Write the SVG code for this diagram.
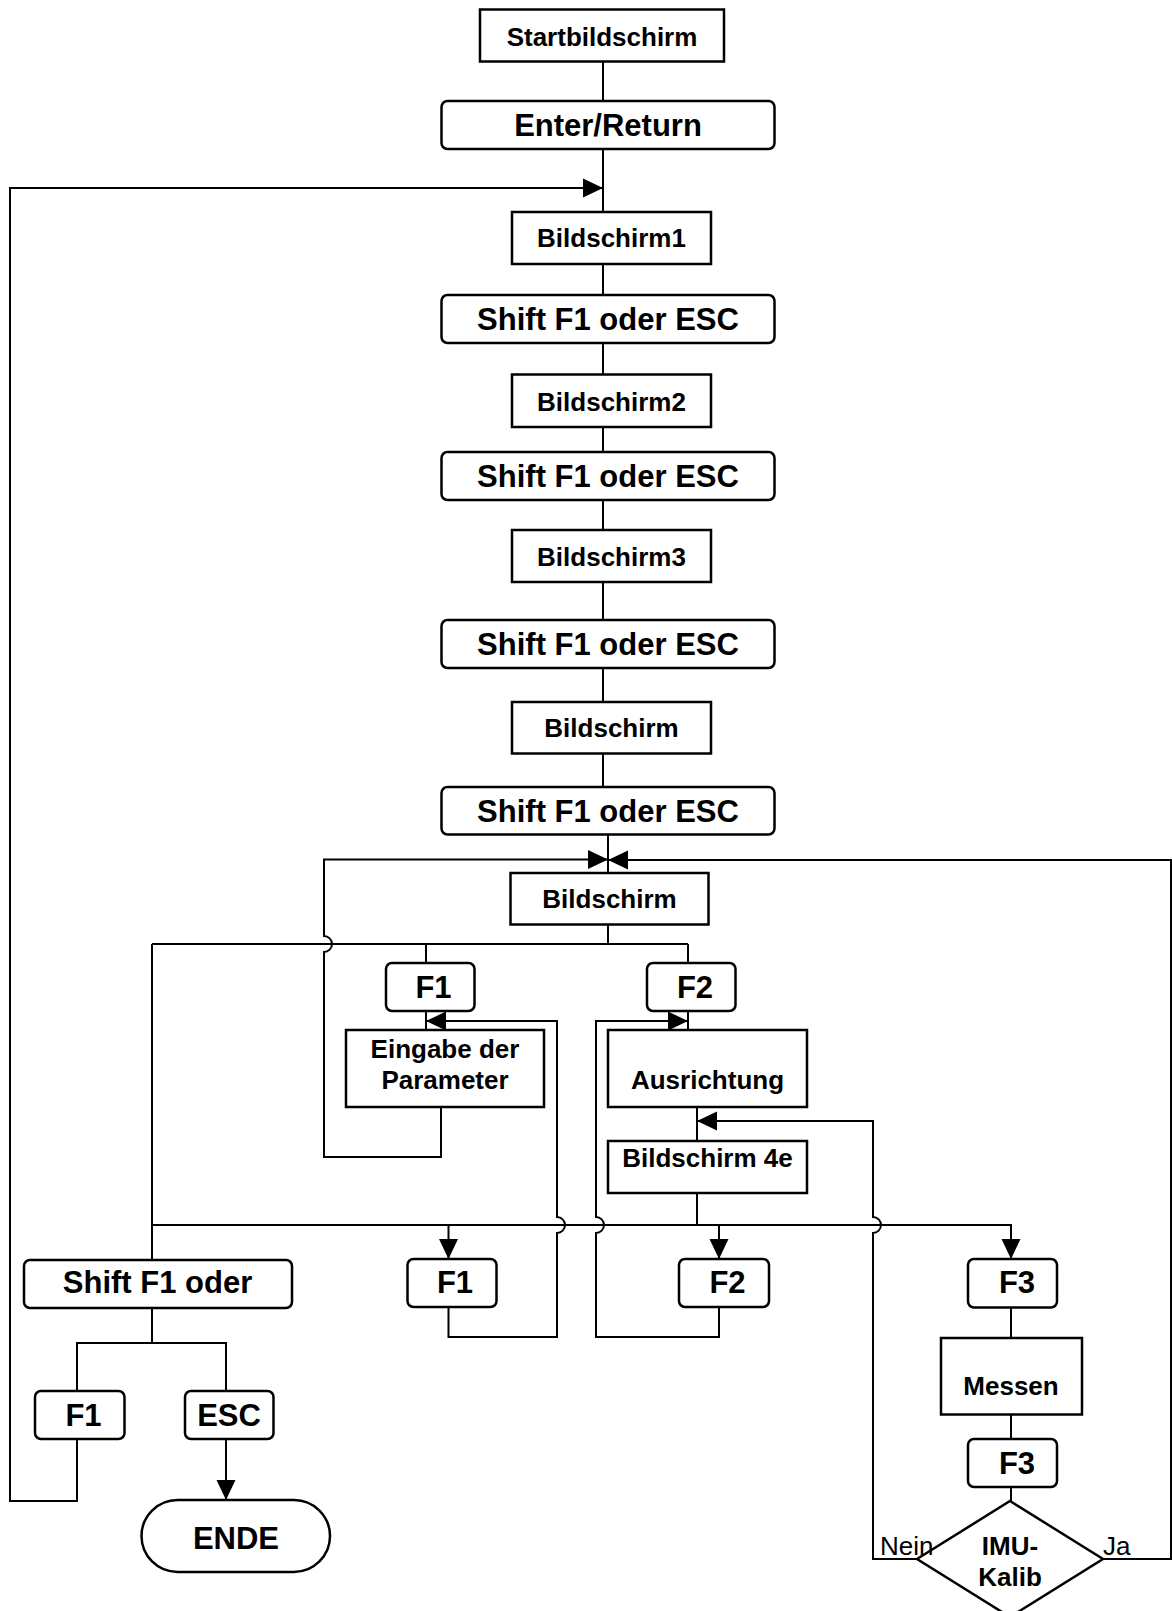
<svg xmlns="http://www.w3.org/2000/svg" width="1172" height="1611" viewBox="0 0 1172 1611">
<defs>
<marker id="ah" viewBox="0 0 20 20" refX="20" refY="10" markerWidth="20" markerHeight="20" markerUnits="userSpaceOnUse" orient="auto">
<path d="M0,0.5 L20,10 L0,19.5 z" fill="#000"/>
</marker>
<style>
.b{fill:#fff;stroke:#000;stroke-width:2.5}
.c{fill:none;stroke:#000;stroke-width:2}
.a{fill:none;stroke:#000;stroke-width:2;marker-end:url(#ah)}
text{font-family:"Liberation Sans",Arial,sans-serif;fill:#000;text-anchor:middle}
.s{font-size:26px;font-weight:bold}
.l{font-size:31px;font-weight:bold}
.n{font-size:26px;text-anchor:start}
</style>
</defs>
<rect width="1172" height="1611" fill="#fff"/>
<g id="connectors">
<path class="c" d="M603,62 V101"/>
<path class="c" d="M603,149 V212"/>
<path class="c" d="M603,264 V295"/>
<path class="c" d="M603,343 V374"/>
<path class="c" d="M603,427 V452"/>
<path class="c" d="M603,500 V530"/>
<path class="c" d="M603,582 V620"/>
<path class="c" d="M603,668 V702"/>
<path class="c" d="M603,753 V787"/>
<path class="c" d="M608,834 V873"/>
<path class="c" d="M608,924 V944"/>
<path class="c" d="M152,944 H688"/>
<path class="c" d="M426,944 V963"/>
<path class="c" d="M688,944 V963"/>
<path class="c" d="M426,1011 V1030"/>
<path class="c" d="M688,1011 V1030"/>
<path class="c" d="M697,1107 V1141"/>
<path class="c" d="M697,1193 V1225"/>
<path class="a" d="M152,1225 H1011 V1259"/>
<path class="a" d="M448.5,1225 V1259"/>
<path class="a" d="M719,1225 V1259"/>
<path class="c" d="M152,944 V1260"/>
<path class="c" d="M152,1308 V1343"/>
<path class="c" d="M77,1391 V1343 H226 V1391"/>
<path class="a" d="M226,1439 V1500"/>
<path class="a" d="M77,1439 V1501 H10 V188 H603"/>
<path class="a" d="M441,1107 V1157 H324 V952 A8,8 0 0 0 324,936 V859.5 H608"/>
<path class="a" d="M448.5,1307 V1337 H557 V1233 A8,8 0 0 0 557,1217 V1021 H426"/>
<path class="a" d="M719,1307 V1337 H596 V1233 A8,8 0 0 0 596,1217 V1021 H688"/>
<path class="c" d="M1011,1308 V1338"/>
<path class="c" d="M1011,1414 V1439"/>
<path class="c" d="M1011,1487 V1501"/>
<path class="a" d="M917,1559 H873 V1233 A8,8 0 0 0 873,1217 V1121 H697"/>
<path class="a" d="M1103,1559 H1171 V860 H608"/>
</g>
<g id="n_start"><rect class="b" x="480" y="9.5" width="244" height="52"/><text class="s" x="602" y="45.5">Startbildschirm</text></g>
<g id="n_enter"><rect class="b" x="441.5" y="101" width="333" height="48" rx="6"/><text class="l" x="608" y="136">Enter/Return</text></g>
<g id="n_b1"><rect class="b" x="512" y="212" width="199" height="52"/><text class="s" x="611.5" y="247">Bildschirm1</text></g>
<g id="n_s1"><rect class="b" x="441.5" y="295" width="333" height="48" rx="6"/><text class="l" x="608" y="330">Shift F1 oder ESC</text></g>
<g id="n_b2"><rect class="b" x="512" y="374.5" width="199" height="52.5"/><text class="s" x="611.5" y="410.5">Bildschirm2</text></g>
<g id="n_s2"><rect class="b" x="441.5" y="452" width="333" height="48" rx="6"/><text class="l" x="608" y="487">Shift F1 oder ESC</text></g>
<g id="n_b3"><rect class="b" x="512" y="530" width="199" height="52"/><text class="s" x="611.5" y="566">Bildschirm3</text></g>
<g id="n_s3"><rect class="b" x="441.5" y="620" width="333" height="48" rx="6"/><text class="l" x="608" y="655">Shift F1 oder ESC</text></g>
<g id="n_ba"><rect class="b" x="512" y="702" width="199" height="51.5"/><text class="s" x="611.5" y="737">Bildschirm</text></g>
<g id="n_s4"><rect class="b" x="441.5" y="787" width="333" height="47.5" rx="6"/><text class="l" x="608" y="821.5">Shift F1 oder ESC</text></g>
<g id="n_bb"><rect class="b" x="510.5" y="873" width="198" height="51.5"/><text class="s" x="609.5" y="908">Bildschirm</text></g>
<g id="n_f1u"><rect class="b" x="386" y="963" width="88.5" height="48" rx="6"/><text class="l" x="433.5" y="998">F1</text></g>
<g id="n_f2u"><rect class="b" x="647" y="963" width="88.5" height="48" rx="6"/><text class="l" x="695" y="998">F2</text></g>
<g id="n_eingabe"><rect class="b" x="346" y="1030" width="198" height="77"/><text class="s" x="445" y="1058">Eingabe der</text><text class="s" x="445" y="1089">Parameter</text></g>
<g id="n_ausr"><rect class="b" x="608" y="1030" width="199" height="77"/><text class="s" x="707.5" y="1089">Ausrichtung</text></g>
<g id="n_b4e"><rect class="b" x="608" y="1141" width="199" height="52"/><text class="s" x="707.5" y="1166.5">Bildschirm 4e</text></g>
<g id="n_shiftoder"><rect class="b" x="24" y="1260" width="268" height="48" rx="6"/><text class="l" x="157.5" y="1293">Shift F1 oder</text></g>
<g id="n_f1m"><rect class="b" x="407.5" y="1259" width="89" height="48" rx="6"/><text class="l" x="455" y="1293">F1</text></g>
<g id="n_f2m"><rect class="b" x="679" y="1259" width="90" height="48" rx="6"/><text class="l" x="727.5" y="1293">F2</text></g>
<g id="n_f3u"><rect class="b" x="968" y="1259" width="89" height="48.5" rx="6"/><text class="l" x="1017" y="1293">F3</text></g>
<g id="n_messen"><rect class="b" x="941" y="1338" width="141" height="76.5"/><text class="s" x="1011" y="1395">Messen</text></g>
<g id="n_f3l"><rect class="b" x="968" y="1439" width="89" height="48" rx="6"/><text class="l" x="1017" y="1473.5">F3</text></g>
<g id="n_f1bl"><rect class="b" x="35" y="1391" width="89.5" height="48" rx="6"/><text class="l" x="83.5" y="1426">F1</text></g>
<g id="n_esc"><rect class="b" x="185" y="1391" width="88.5" height="48" rx="6"/><text class="l" x="229" y="1426">ESC</text></g>
<g id="n_ende"><rect class="b" x="141.5" y="1500" width="188.5" height="72" rx="36"/><text class="l" x="236" y="1549">ENDE</text></g>
<g id="n_imu"><polygon class="b" points="1010,1501 1103,1559 1010,1617 917,1559"/><text class="s" x="1010" y="1555">IMU-</text><text class="s" x="1010" y="1586">Kalib</text></g>
<g id="labels"><text class="n" x="880" y="1555">Nein</text><text class="n" x="1103" y="1555">Ja</text></g>
</svg>
